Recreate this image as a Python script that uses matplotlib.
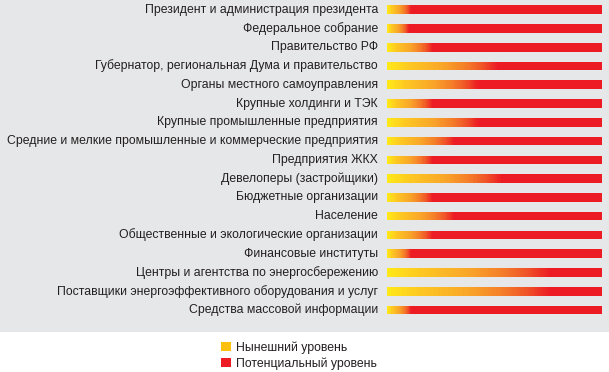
import numpy as np
import matplotlib
matplotlib.use("Agg")
from matplotlib import pyplot as plt
from matplotlib.colors import LinearSegmentedColormap
from matplotlib.patches import Patch

plt.rcParams['font.family'] = ['Liberation Sans', 'DejaVu Sans']

labels = [
    'Президент и администрация президента',
    'Федеральное собрание',
    'Правительство РФ',
    'Губернатор, региональная Дума и правительство',
    'Органы местного самоуправления',
    'Крупные холдинги и ТЭК',
    'Крупные промышленные предприятия',
    'Средние и мелкие промышленные и коммерческие предприятия',
    'Предприятия ЖКХ',
    'Девелоперы (застройщики)',
    'Бюджетные организации',
    'Население',
    'Общественные и экологические организации',
    'Финансовые институты',
    'Центры и агентства по энергосбережению',
    'Поставщики энергоэффективного оборудования и услуг',
    'Средства массовой информации',
]
# current level and potential level, % of scale
current = [11, 10, 21, 51, 42, 21, 42, 31, 21, 53, 21, 31, 21, 11, 75, 75, 11]
potential = [100] * 17

legend_labels = ['Нынешний уровень', 'Потенциальный уровень']

red = '#ED1C24'
yellow_leg = '#FDC00F'
grad = LinearSegmentedColormap.from_list(
    'yr', [(0, '#FFE817'), (0.2, '#FDC722'), (0.5, '#F9A529'),
           (0.72, '#F47B29'), (0.87, '#EF5127'), (1, red)])

W, H = 609, 372
fig = plt.figure(figsize=(W / 100, H / 100), dpi=100)
panel_h = 332
ax = fig.add_axes([0, 1 - panel_h / H, 1, panel_h / H])
ax.set_facecolor('#E6E7E8')

x0, x1 = 387.3, 602.3
sc = (x1 - x0) / 100
y0, dy = 9.7, 18.77

bh = 0.46
nseg = 80
yy = np.arange(len(labels))
ax.barh(yy, potential, height=bh, color=red, linewidth=0, zorder=2)
t = np.linspace(0, 1, nseg + 1)
for i, c in enumerate(current):
    # yellow -> red gradient over the current level, thin slices
    left = t[:-1] * c
    width = np.diff(t) * c * 1.05
    ax.barh(np.full(nseg, i), width, left=left, height=bh,
            color=grad(t[:-1]), linewidth=0, zorder=3)
    ax.text(-9.3 / sc, i, labels[i], ha='right', va='center',
            fontsize=8.85, color='#231F20')

ax.set_xlim(-x0 / sc, (W - x0) / sc)
ax.set_ylim((panel_h - y0) / dy, -y0 / dy)
for s in ax.spines.values():
    s.set_visible(False)
ax.set_xticks([])
ax.set_yticks([])

handles = [Patch(facecolor=yellow_leg, edgecolor='none'),
           Patch(facecolor=red, edgecolor='none')]
fig.legend(handles, legend_labels, loc='upper left',
           bbox_to_anchor=(216 / W, 1 - 336.5 / H), frameon=False,
           fontsize=8.85, handlelength=0.8, handleheight=0.75,
           handletextpad=0.4, labelspacing=0.3, borderaxespad=0,
           labelcolor='#231F20')

fig.savefig('out.png', dpi=100, facecolor='white')
